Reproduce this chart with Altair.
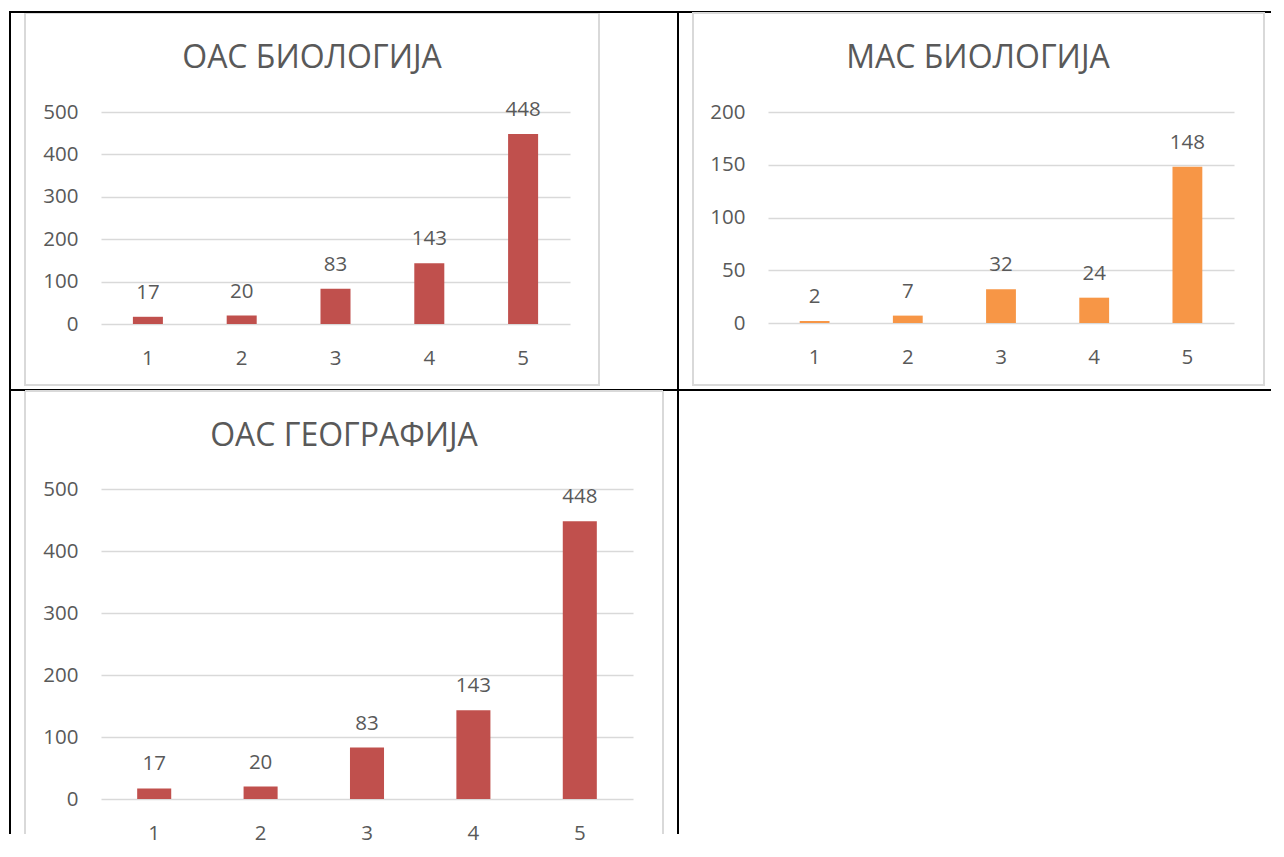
import altair as alt
import pandas as pd

categories = ["1", "2", "3", "4", "5"]
oas_biologija = [17, 20, 83, 143, 448]
mas_biologija = [2, 7, 32, 24, 148]
oas_geografija = [17, 20, 83, 143, 448]

titles = ["ОАС БИОЛОГИЈА", "МАС БИОЛОГИЈА", "ОАС ГЕОГРАФИЈА"]

FONT = "Open Sans"
TEXT = "#595959"
GRID = "#d9d9d9"
RED = "#C0504D"
ORANGE = "#F79646"

one = alt.InlineData(values=[{"k": 1}])


def hrule(x1, x2, y, color, w):
    return alt.Chart(one).mark_rule(color=color, strokeWidth=w).encode(
        x=alt.value(x1), x2=alt.value(x2), y=alt.value(y))


def vrule(x, y1, y2, color, w):
    return alt.Chart(one).mark_rule(color=color, strokeWidth=w).encode(
        x=alt.value(x), y=alt.value(y1), y2=alt.value(y2))


def box(x1, x2, y1, y2):
    return alt.Chart(one).mark_rect(fill="transparent", stroke=GRID, strokeWidth=2).encode(
        x=alt.value(x1), x2=alt.value(x2), y=alt.value(y1), y2=alt.value(y2))


def panel(values, color, ymax, ystep, w, h, title, tx, ty, extras):
    df = pd.DataFrame({"cat": categories, "val": values})
    base = alt.Chart(df).encode(
        x=alt.X("cat:N", sort=categories, title=None,
                scale=alt.Scale(paddingInner=0.68, paddingOuter=0.34),
                axis=alt.Axis(labelAngle=0, labelPadding=24, grid=False,
                              domain=False, ticks=False)),
        y=alt.Y("val:Q", title=None,
                scale=alt.Scale(domain=[0, ymax], nice=False),
                axis=alt.Axis(values=list(range(0, ymax + 1, ystep)), labelPadding=23,
                              grid=True, domain=False, ticks=False)),
    )
    bars = base.mark_bar(color=color)
    labels = base.mark_text(dy=-18, baseline="alphabetic", font=FONT, fontSize=20.5,
                            color=TEXT).encode(text="val:Q")
    ttl = alt.Chart(one).mark_text(text=title, font=FONT, fontSize=32, color=TEXT,
                                   baseline="alphabetic", align="center").encode(
        x=alt.value(tx), y=alt.value(ty))
    return alt.layer(*extras, bars, labels, ttl).properties(width=w, height=h)


c1_extras = [
    box(-76, 498, -99, 273),
    hrule(-92, 1170, -100, "black", 2),
    hrule(-92, 1170, 278, "black", 2),
    vrule(-91, -101, 722, "black", 2),
    vrule(577, -101, 722, "black", 2),
]
c2_extras = [box(-75, 496, -99, 273)]
c3_extras = [
    hrule(-76, 562, -98, GRID, 2),
    vrule(-76, -98, 345, GRID, 2),
    vrule(562, -98, 345, GRID, 2),
]

c1 = panel(oas_biologija, RED, 500, 100, 469, 212, titles[0], 211, -44, c1_extras)
c2 = panel(mas_biologija, ORANGE, 200, 50, 466, 211, titles[1], 210, -44, c2_extras)
c3 = panel(oas_geografija, RED, 500, 100, 532, 310, titles[2], 243, -43, c3_extras)

chart = alt.concat(
    c1, c2, c3, columns=2, bounds="flush", spacing={"row": 165, "column": 135}
).properties(
    padding={"left": -1, "top": 1, "right": 0, "bottom": 0}
).configure_view(stroke="transparent").configure_axis(
    labelFont=FONT, labelFontSize=20.5, labelColor=TEXT,
    gridColor=GRID, gridWidth=1.5,
)

chart.save("out.html", embed_options={"renderer": "svg", "actions": False})
